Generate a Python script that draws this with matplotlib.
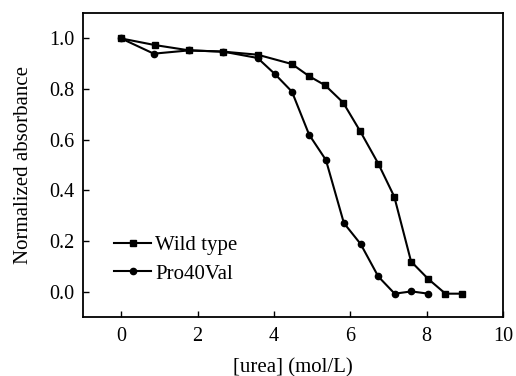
import numpy as np
import matplotlib
matplotlib.use('agg')
import matplotlib.pyplot as plt

##### Settings
plt.rcParams['font.family'] = 'Liberation Serif'
plt.rcParams['font.size'] = 15
plt.rcParams['xtick.direction'] = 'in'
plt.rcParams['ytick.direction'] = 'in'

##### Data
wt_urea = [0, 0.88, 1.78, 2.67, 3.57, 4.47, 4.92, 5.34, 5.81, 6.26, 6.73, 7.15, 7.59, 8.04, 8.49, 8.93]
wt_abs = [1.0, 0.974, 0.953, 0.948, 0.936, 0.899, 0.851, 0.815, 0.747, 0.633, 0.506, 0.375, 0.119, 0.05, -0.008, -0.008]
mut_urea = [0, 0.85, 1.78, 2.67, 3.57, 4.02, 4.47, 4.92, 5.36, 5.83, 6.27, 6.73, 7.16, 7.6, 8.04]
mut_abs = [1.0, 0.94, 0.953, 0.948, 0.923, 0.86, 0.79, 0.62, 0.52, 0.271, 0.188, 0.06, -0.008, 0.001, -0.008]
xticks = [0, 2, 4, 6, 8, 10]
yticks = [0.0, 0.2, 0.4, 0.6, 0.8, 1.0]

##### Plotting
fig = plt.figure(figsize=(5.16, 3.76), dpi=100)
ax = fig.add_axes([0.161, 0.157, 0.814, 0.808])
ax.plot(wt_urea, wt_abs, color='k', lw=1.5, marker='s', ms=4, label='Wild type')
ax.plot(mut_urea, mut_abs, color='k', lw=1.5, marker='o', ms=4.5, label='Pro40Val')
ax.set_xlim(-1, 10)
ax.set_ylim(-0.1, 1.1)
ax.set_xticks(xticks)
ax.set_yticks(yticks)
ax.set_yticklabels(['%.1f' % v for v in yticks])
ax.tick_params(length=4, width=1, top=False, right=False, labelsize=14.5)
ax.tick_params(axis='x', pad=7)
ax.tick_params(axis='y', pad=6)
for s in ax.spines.values():
    s.set_linewidth(1.3)
ax.set_xlabel('[urea] (mol/L)', fontsize=15, labelpad=9)
ax.set_ylabel('Normalized absorbance', fontsize=15, labelpad=12)
ax.legend(loc='lower left', bbox_to_anchor=(0.05, 0.075), frameon=False,
          handlelength=1.75, handletextpad=0.2, labelspacing=0.45, borderpad=0, fontsize=15)
plt.savefig('out.png', dpi=100)
